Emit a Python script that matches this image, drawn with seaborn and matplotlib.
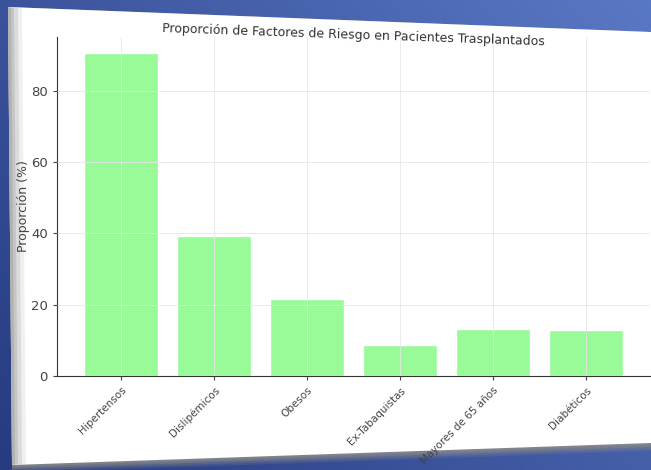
import numpy as np
import seaborn as sns
import matplotlib.pyplot as plt
from matplotlib.patches import Polygon

# Proporción de factores de riesgo (%)
factores = ["Hipertensos", "Dislipémicos", "Obesos", "Ex-Tabaquistas",
            "Mayores de 65 años", "Diabéticos"]
proporcion = [90.5, 39.3, 21.6, 8.6, 13.1, 13.0]

sns.set_style("white")
plt.rcParams['font.family'] = ['DejaVu Sans']

fig = plt.figure(figsize=(6.51, 4.70), dpi=100)

# blue photo background with a tilted white sheet
bg = fig.add_axes([0, 0, 1, 1])
gx, gy = np.meshgrid(np.linspace(0, 1, 200), np.linspace(0, 1, 150))
grad = np.clip(0.6 * gx + 0.4 * (1 - gy), 0, 1)
dark = np.array([0.15, 0.23, 0.50])
light = np.array([0.35, 0.47, 0.77])
img = dark + grad[..., None] * (light - dark)
bg.imshow(img, extent=[0, 651, 470, 0], aspect='auto')

# soft shadow under the sheet
for off, a in [(8, 0.2), (6, 0.3), (4, 0.45), (2, 0.65)]:
    bg.add_patch(Polygon([[8, 7], [651, 32], [651, 443 + off], [12, 465 + off]],
                         closed=True, facecolor='#8a8a8a', edgecolor='none', alpha=a))
bg.add_patch(Polygon([[8, 7], [651, 32], [651, 443], [12, 465]],
                     closed=True, facecolor='white', edgecolor='none'))
# curled left edge
for w, a in [(14, 0.15), (10, 0.25), (6, 0.35), (3, 0.5)]:
    bg.add_patch(Polygon([[8, 7], [8 + w, 8], [12 + w, 464], [12, 465]],
                         closed=True, facecolor='#a0a0a0', edgecolor='none', alpha=a))
bg.set_xlim(0, 651)
bg.set_ylim(470, 0)
bg.axis('off')

ax = fig.add_axes([57 / 651, 94 / 470, 593 / 651, 339 / 470])
sns.barplot(x=factores, y=proporcion, color='palegreen', saturation=1,
            width=0.8, ax=ax)
ax.set_xlim(-0.69, 5.69)
ax.set_facecolor('none')
ax.grid(True, color='#e6e6e6', linewidth=0.6)
ax.set_axisbelow(False)
ax.set_title("Proporción de Factores de Riesgo en Pacientes Trasplantados",
             fontsize=9, color='#333333', rotation=-2, pad=0, y=0.975)
ax.set_ylabel("Proporción (%)", fontsize=9, color='#444444', labelpad=1)
ax.set_xlabel("")
ax.tick_params(axis='y', labelsize=9.5, colors='#444444', length=3, left=True)
ax.tick_params(axis='x', labelsize=7.5, colors='#444444', length=3, bottom=True)
plt.setp(ax.get_xticklabels(), rotation=45, ha='right', rotation_mode='anchor')
sns.despine(ax=ax)
ax.spines['left'].set_color('#333333')
ax.spines['bottom'].set_color('#333333')

fig.savefig("out.png", dpi=100)
